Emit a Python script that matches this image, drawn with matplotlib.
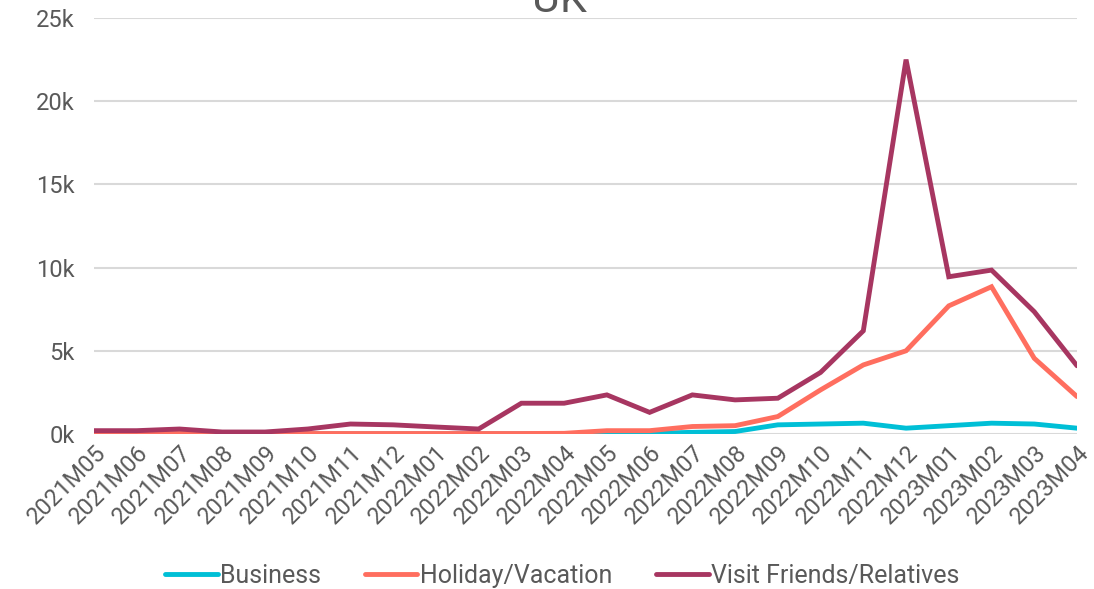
import matplotlib
matplotlib.use("Agg")
import matplotlib.pyplot as plt

plt.rcParams['font.family'] = ['Roboto', 'DejaVu Sans']

# Datos
months = ['2021M05', '2021M06', '2021M07', '2021M08', '2021M09', '2021M10',
          '2021M11', '2021M12', '2022M01', '2022M02', '2022M03', '2022M04',
          '2022M05', '2022M06', '2022M07', '2022M08', '2022M09', '2022M10',
          '2022M11', '2022M12', '2023M01', '2023M02', '2023M03', '2023M04']
business = [10, 10, 10, 10, 10, 10, 10, 10, 10, 10, 10, 10,
            30, 40, 100, 150, 550, 600, 650, 350, 500, 650, 600, 350]
holiday = [20, 20, 30, 20, 20, 30, 30, 30, 30, 30, 30, 40,
           200, 200, 450, 500, 1050, 2650, 4150, 5000, 7700, 8850, 4550, 2250]
visit = [200, 200, 300, 120, 120, 300, 600, 550, 420, 300, 1850, 1850,
         2350, 1300, 2350, 2050, 2150, 3700, 6200, 22500, 9450, 9850, 7350, 4100]

colors = ['#00BFD6', '#FF6E5F', '#A73661']
labels = ['Business', 'Holiday/Vacation', 'Visit Friends/Relatives']

fig = plt.figure(figsize=(10.94, 5.89), dpi=100)
ax = fig.add_axes([94 / 1094, 155 / 589, 983 / 1094, 416 / 589])

x = list(range(len(months)))
for serie, c, lab in zip([business, holiday, visit], colors, labels):
    ax.plot(x, serie, color=c, lw=3.5, label=lab, solid_capstyle='round', solid_joinstyle='miter')

ax.set_xlim(0, 23)
ax.set_ylim(0, 25000)
ax.set_yticks([0, 5000, 10000, 15000, 20000, 25000])
ax.set_yticklabels(['0k', '5k', '10k', '15k', '20k', '25k'])
ax.set_xticks(x)
ax.set_xticklabels(months, rotation=45, ha='right', rotation_mode='anchor')
ax.tick_params(axis='both', length=0, labelsize=17, labelcolor='#595959')
ax.tick_params(axis='y', pad=14)
ax.tick_params(axis='x', pad=5)
ax.grid(axis='y', color='#d9d9d9', lw=1.5)
ax.set_axisbelow(True)
for s in ax.spines.values():
    s.set_visible(False)

fig.text(0.511, 1 - 12 / 589, 'UK', ha='center', va='baseline', fontsize=31, color='#595959')

fig.legend(loc='center', bbox_to_anchor=(0.514, 0.022), ncol=3, frameon=False,
           fontsize=18, labelcolor='#595959', handlelength=2.1, handletextpad=0.1,
           columnspacing=1.75)

plt.savefig('out.png', dpi=100)
plt.close()
